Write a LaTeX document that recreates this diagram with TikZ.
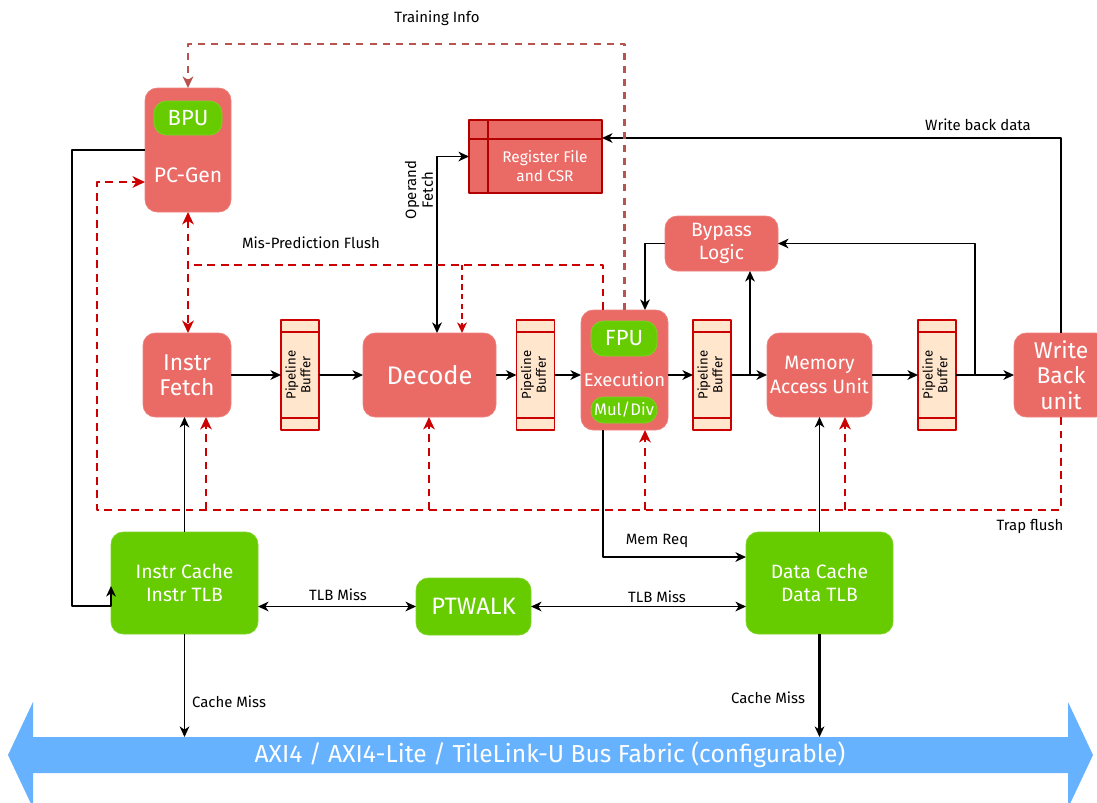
\documentclass[tikz,border=0pt]{standalone}
\usepackage{fontspec}
\setmainfont{Fira Sans}
\usetikzlibrary{arrows.meta,calc}

\definecolor{boxred}{HTML}{EA6B66}
\definecolor{boxgreen}{HTML}{66CC00}
\definecolor{busblue}{HTML}{66B2FF}
\definecolor{bufpeach}{HTML}{FFE6CC}
\definecolor{bufred}{HTML}{CC0000}
\definecolor{regred}{HTML}{B20000}
\definecolor{trainred}{HTML}{B85450}

\tikzset{
    wh/.style 2 args={minimum width=#1*0.02cm, minimum height=#2*0.02cm},
    redbox/.style={rounded corners=7pt, fill=boxred, draw=boxred!85!white, text=white,
        align=center, inner sep=0pt, outer sep=0pt},
    greenbox/.style={redbox, fill=boxgreen, draw=boxgreen!85!white},
    regbox/.style={fill=boxred, draw=regred, line width=1.3pt, inner sep=0pt, outer sep=0pt},
    pbuf/.style={fill=bufpeach, draw=bufred, line width=1.1pt, inner sep=0pt, outer sep=0pt, wh={38}{110}},
    bigfont/.style={font=\fontsize{14.5}{17}\selectfont},
    stagefont/.style={font=\fontsize{13}{14.5}\selectfont},
    midfont/.style={font=\fontsize{11}{13.5}\selectfont},
    unitfont/.style={font=\fontsize{12.5}{14}\selectfont},
    cachefont/.style={font=\fontsize{11}{13}\selectfont},
    smallfont/.style={font=\fontsize{8.8}{10.5}\selectfont},
    lbl/.style={font=\fontsize{8.5}{9.5}\selectfont, inner sep=1pt},
    tip/.style={-{Stealth[length=6pt,width=5.5pt,inset=1.8pt]}},
    flow/.style={draw=black, line width=0.85pt, tip},
    both/.style={flow, {Stealth[length=6pt,width=5.5pt,inset=1.8pt]}-{Stealth[length=6pt,width=5.5pt,inset=1.8pt]}},
    flush/.style={draw=bufred, line width=1.5pt, dash pattern=on 4.5pt off 3.2pt,
        -{Stealth[length=7pt,width=6.5pt,inset=2pt]}},
    flushthin/.style={draw=bufred, line width=1pt, dash pattern=on 3pt off 2.5pt,
        -{Stealth[length=6pt,width=5.5pt,inset=1.8pt]}},
    train/.style={draw=trainred, line width=1.3pt, dash pattern=on 4pt off 3.5pt,
        -{Stealth[length=6.5pt,width=6pt,inset=1.8pt]}},
}

\begin{document}
\begin{tikzpicture}[x=0.02cm, y=-0.02cm, line join=round]
    \useasboundingbox (0,0) rectangle (1097,802);

    % bus fabric
    \fill[busblue] (8,755) -- (33,702) -- (33,737) -- (1068,737) -- (1068,702) -- (1093,755)
        -- (1068,808) -- (1068,773) -- (33,773) -- (33,808) -- cycle;
    \node[font=\fontsize{14}{16}\selectfont, text=white] (bus) at (550,755)
        {AXI4 / AXI4-Lite / TileLink-U Bus Fabric (configurable)};

    % front end
    \node[redbox, wh={86}{124}] (pcgen) at (188,150) {};
    \node[greenbox, unitfont, wh={68}{34}] (bpu) at (188,118) {BPU};
    \node[font=\fontsize{12}{14}\selectfont, text=white] (pcgentext) at (188,175) {PC-Gen};

    \node[regbox, wh={133}{73}] (regfile) at (535.5,156.5) {};
    \draw[regred, line width=1.3pt] (regfile.north west) ++(0,19) -- ++(133,0);
    \draw[regred, line width=1.3pt] (regfile.north west) ++(19,0) -- ++(0,73);
    \node[smallfont, text=white, align=center] (regtext) at (545,166) {Register File\\and CSR};

    \node[redbox, midfont, wh={113}{55}] (bypass) at (721.5,243.5) {Bypass\\Logic};

    % pipeline stages
    \node[redbox, stagefont, wh={88}{84}] (fetch) at (187,375) {Instr\\Fetch};
    \node[redbox, bigfont, wh={133}{84}] (decode) at (429.5,375) {Decode};
    \node[redbox, wh={87}{120}] (exec) at (624.5,370) {};
    \node[greenbox, unitfont, wh={66}{35}] (fpu) at (624,338.5) {FPU};
    \node[greenbox, font=\fontsize{9.5}{11}\selectfont, wh={66}{26}] (muldiv) at (624,410) {Mul/Div};
    \node[font=\fontsize{10.5}{12}\selectfont, text=white] (extext) at (624.5,379) {Execution};
    \node[redbox, midfont, wh={105}{84}] (memory) at (819.5,375) {Memory\\Access Unit};
    \node[redbox, stagefont, wh={94}{84}] (wb) at (1061,375) {Write\\Back\\unit};

    \foreach \i/\x in {1/300, 2/535.5, 3/712, 4/937}{
        \node[pbuf] (buf\i) at (\x,375) {\rotatebox{90}{\fontsize{7.5}{8.5}\selectfont
            \begin{tabular}{@{}c@{}}Pipeline\\Buffer\end{tabular}}};
        \draw[bufred, line width=1.1pt] (buf\i.north west) ++(0,12) -- ++(38,0);
        \draw[bufred, line width=1.1pt] (buf\i.south west) ++(0,-12) -- ++(38,0);
    }

    % caches
    \node[greenbox, cachefont, wh={147}{102}] (icache) at (184.5,583) {Instr Cache\\Instr TLB};
    \node[greenbox, font=\fontsize{13.5}{15}\selectfont, wh={115}{57}] (ptwalk) at (473.5,606.5) {PTWALK};
    \node[greenbox, cachefont, wh={147}{102}] (dcache) at (819.5,583) {Data Cache\\Data TLB};

    \path
    (0,737) coordinate (bustop)
    (72,150) coordinate (pl1)
    (72,606) coordinate (pl2)
    (750,375) coordinate (bp1)
    (975,375) coordinate (bp2)
    (0,44) coordinate (tr1)
    (603,265) coordinate (mp1)
    (188,265) coordinate (mp2)
    (462,265) coordinate (mp3)
    (1061,510) coordinate (tf1)
    (97,510) coordinate (tf2)
    (97,182) coordinate (tf3)
    ;

    % data path
    \foreach \a/\b in {fetch/buf1, buf1/decode, decode/buf2, buf3/memory, memory/buf4, buf4/wb}{
        \draw[flow] (\a) -- (\b);
    }
    \draw[flow] (buf2.east) -- (exec.west |- buf2.east);
    \draw[flow] (exec.east |- buf3.west) -- (buf3.west);
    \draw[flow] (bp1) -- (bypass.south -| bp1);
    \draw[flow] (bp2) |- (bypass.east);
    \draw[flow] (bypass.west) -| (exec.north -| 645,0);
    \draw[flow] (wb.north) |- ($(regfile.north east)+(0,18)$);
    \draw[both] (decode.north -| 437,0) |- (regfile.west);
    \draw[flow] (pcgen.west) -- (pl1) -- (pl2) -- (icache.west |- pl2) -- ++(0,-20);
    \draw[flow] (icache.north) -- (fetch.south -| icache.north);
    \draw[flow] (icache.south) -- (icache.south |- bustop);
    \draw[both] (icache.east |- ptwalk) -- (ptwalk.west);
    \draw[both] (ptwalk.east) -- (dcache.west |- ptwalk);
    \draw[flow] (exec.south -| 603,0) |- (dcache.west |- 0,557);
    \draw[flow] (dcache.north) -- (memory.south);
    \draw[flow, line width=1.7pt] (dcache.south) -- (dcache.south |- bustop);

    % flushes
    \draw[train] (exec.north) -- (exec.north |- tr1) -| (pcgen.north);
    \draw[flush, -] (exec.north -| mp1) -- (mp1) -- (mp2);
    \draw[flush, {Stealth[length=7pt,width=6.5pt,inset=2pt]}-{Stealth[length=7pt,width=6.5pt,inset=2pt]}]
        (pcgen.south) -- (fetch.north -| pcgen.south);
    \draw[flushthin] (mp3) -- (decode.north -| mp3);
    \draw[flush] (wb.south) -- (tf1) -- (tf2) -- (tf3) -- (pcgen.west |- tf3);
    \foreach \n/\x in {fetch/206, decode/429, exec/645, memory/845}{
        \draw[flush] (\x,510) -- (\n.south -| \x,0);
    }

    % labels
    \node[lbl] (lTrain) at (437,18) {Training Info};
    \node[lbl] (lMis) at (311,243) {Mis-Prediction Flush};
    \node[lbl] (lWback) at (978,125) {Write back data};
    \node[lbl, rotate=90, align=center] (lOper) at (419,190) {Operand\\Fetch};
    \node[lbl] (lTrap) at (1030,526) {Trap flush};
    \node[lbl] (lMem) at (657,541) {Mem Req};
    \node[lbl] (lTlb1) at (338,595) {TLB Miss};
    \node[lbl] (lTlb2) at (657,597) {TLB Miss};
    \node[lbl] (lMiss1) at (229,702) {Cache Miss};
    \node[lbl] (lMiss2) at (768,698) {Cache Miss};
\end{tikzpicture}
\end{document}
